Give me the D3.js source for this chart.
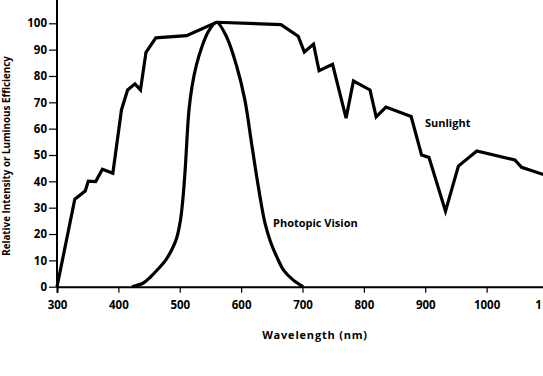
<!DOCTYPE html>
<html>
<head>
<meta charset="utf-8">
<script src="https://cdn.jsdelivr.net/npm/d3@7"></script>
<style>
  body { margin: 0; background: #fff; }
  svg { display: block; }
  text { font-family: "Open Sans", sans-serif; font-weight: 700; fill: #000; }
</style>
</head>
<body>
<div id="chart"></div>
<script>
// Sunlight spectrum (relative intensity)
const sunWavelength = [300, 329, 346, 351, 363, 374, 391, 405, 415, 427, 436, 445, 461, 511, 560,
    665, 693, 703, 718, 727, 749, 771, 783, 810, 820, 836, 877, 894, 906, 933, 954, 984, 1046, 1057, 1100]
const sunValue = [0, 33.2, 36.3, 40.1, 39.9, 44.6, 43.1, 67.1, 74.7, 77.0, 74.7, 89.0, 94.5, 95.3, 100.4,
    99.5, 95.1, 89.1, 92.1, 82.0, 84.4, 64.0, 78.1, 74.7, 64.5, 68.2, 64.6, 50.0, 49.1, 28.7, 45.8, 51.5, 48.1, 45.3, 42.0]

// Photopic vision (luminous efficiency)
const photopicWavelength = [422, 440, 452, 465, 478, 488, 495, 501, 505, 509, 512, 515, 520, 527, 536, 547, 560,
    576, 593, 606, 617, 628, 639, 648, 658, 670, 685, 701]
const photopicValue = [0, 1.3, 3.6, 6.8, 10.4, 14.5, 18.5, 25, 33, 45, 57, 67, 76, 84, 91, 97, 100.4,
    95, 83.5, 71, 54.5, 38, 24, 17, 11.4, 6, 2.5, 0]

const xTicks = [300, 400, 500, 600, 700, 800, 900, 1000, 1100]
const yTicks = [0, 10, 20, 30, 40, 50, 60, 70, 80, 90, 100]

const xTitle = "Wavelength (nm)"
const yTitle = "Relative Intensity or Luminous Efficiency"
const seriesLabels = ["Sunlight", "Photopic Vision"]

const width = 543, height = 376

const svg = d3.select('#chart').append('svg')
    .attr('width', width)
    .attr('height', height)

const x = d3.scaleLinear().domain([300, 1100]).range([57, 548])
const y = d3.scaleLinear().domain([0, 100]).range([286.7, 23.3])

// x axis
const xAxis = svg.append('g')
    .attr('transform', `translate(0,${y(0)})`)
    .call(d3.axisBottom(x).tickValues(xTicks).tickSize(6).tickPadding(8).tickFormat(d3.format('d')))
xAxis.select('.domain').attr('stroke-width', 2)
xAxis.selectAll('.tick line').attr('stroke-width', 1.2)
xAxis.selectAll('.tick text')
    .style('font-size', '11.5px')
    .style('font-family', '"Open Sans", sans-serif')
    .style('font-weight', 700)

// y axis
const yAxis = svg.append('g')
    .attr('transform', `translate(${x(300)},0)`)
    .call(d3.axisLeft(y).tickValues(yTicks).tickSize(8).tickPadding(2))
yAxis.select('.domain').remove()
yAxis.append('line')
    .attr('y1', 0).attr('y2', y(0))
    .attr('stroke', '#000').attr('stroke-width', 2)
yAxis.selectAll('.tick line').attr('stroke-width', 1.2)
yAxis.selectAll('.tick text')
    .style('font-size', '11.5px')
    .style('font-family', '"Open Sans", sans-serif')
    .style('font-weight', 700)

// curves
const sunLine = d3.line()
    .x((d, i) => x(sunWavelength[i]))
    .y((d, i) => y(sunValue[i]))

const photopicLine = d3.line()
    .x((d, i) => x(photopicWavelength[i]))
    .y((d, i) => y(photopicValue[i]))
    .curve(d3.curveCatmullRom.alpha(0.5))

svg.append('path')
    .attr('d', sunLine(sunValue))
    .attr('fill', 'none')
    .attr('stroke', '#000')
    .attr('stroke-width', 3.2)
    .attr('stroke-linejoin', 'miter')

svg.append('path')
    .attr('d', photopicLine(photopicValue))
    .attr('fill', 'none')
    .attr('stroke', '#000')
    .attr('stroke-width', 3.2)

// series labels
svg.append('text')
    .attr('x', 425).attr('y', 127)
    .style('font-size', '11px')
    .text(seriesLabels[0])

svg.append('text')
    .attr('x', 273).attr('y', 227)
    .style('font-size', '11px')
    .text(seriesLabels[1])

// axis titles
svg.append('text')
    .attr('x', 315).attr('y', 339)
    .attr('text-anchor', 'middle')
    .style('font-size', '11px')
    .style('letter-spacing', '0.8px')
    .text(xTitle)

svg.append('text')
    .attr('transform', `translate(10,156) rotate(-90)`)
    .attr('text-anchor', 'middle')
    .style('font-size', '9.8px')
    .text(yTitle)
</script>
</body>
</html>
